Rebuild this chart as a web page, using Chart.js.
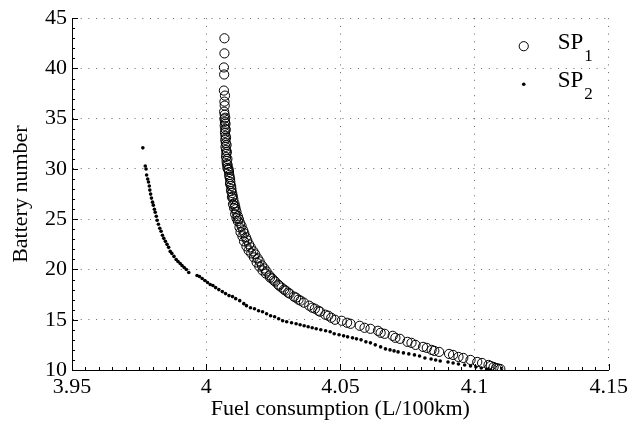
<!DOCTYPE html>
<html>
<head>
<meta charset="utf-8">
<script src="https://cdn.jsdelivr.net/npm/chart.js@4"></script>
<style>
  html, body { margin: 0; padding: 0; background: #fff; }
  #wrap { width: 632px; height: 430px; }
</style>
</head>
<body>
<div id="wrap"><canvas id="myChart" width="632" height="430"></canvas></div>
<script>
// ++++++++++++++++++++++++ DATA ++++++++++++++++++++++++

var xTicks = [3.95, 4, 4.05, 4.1, 4.15];
var yTicks = [10, 15, 20, 25, 30, 35, 40, 45];

var seriesNames = ['SP', 'SP'];
var seriesSubs = ['1', '2'];

// SP1 (open circles)
var sp1Fuel = [
    4.0068, 4.0068, 4.0066, 4.0067, 4.0066, 4.0070, 4.0068, 4.0069, 4.0067, 4.0069,
    4.0068, 4.0070, 4.0069, 4.0071, 4.0070, 4.0072, 4.0071, 4.0073, 4.0072, 4.0074,
    4.0075, 4.0074, 4.0076, 4.0077, 4.0079, 4.0083, 4.0085, 4.0086, 4.0089, 4.0090,
    4.0093, 4.0094, 4.0097, 4.0099, 4.0101, 4.0105, 4.0108, 4.0110, 4.0113, 4.0118,
    4.0122, 4.0127, 4.0132, 4.0138, 4.0142, 4.0148, 4.0153, 4.0160, 4.0166, 4.0176,
    4.0183, 4.0192, 4.0199, 4.0208, 4.0217, 4.0225, 4.0236, 4.0246, 4.0257, 4.0268,
    4.0281, 4.0296, 4.0311, 4.0327, 4.0344, 4.0364, 4.0384, 4.0405, 4.0424, 4.0444,
    4.0466, 4.0505, 4.0538, 4.0572, 4.0612, 4.0640, 4.0665, 4.0695, 4.0722, 4.0750,
    4.0780, 4.0808, 4.0840, 4.0868, 4.0920, 4.0958, 4.0985, 4.1028, 4.1052, 4.1071,
    4.1080, 4.1096,
    4.0071, 4.0072, 4.0073, 4.0074, 4.0076, 4.0077, 4.0079, 4.0080, 4.0083, 4.0087,
    4.0089, 4.0093, 4.0096, 4.0100, 4.0104, 4.0108, 4.0113, 4.0118, 4.0124, 4.0128,
    4.0135, 4.0141, 4.0150, 4.0158, 4.0168, 4.0178, 4.0188, 4.0198, 4.0210, 4.0222,
    4.0238, 4.0252, 4.0272, 4.0290, 4.0305, 4.0335, 4.0352, 4.0395, 4.0418, 4.0455,
    4.0480, 4.0525, 4.0590, 4.0650, 4.0705, 4.0765, 4.0822, 4.0850, 4.0905, 4.0940,
    4.1010, 4.1060, 4.1088
];
var sp1Battery = [
    43.0, 41.5, 40.1, 39.4, 37.8, 37.3, 36.7, 36.3, 35.7, 35.4,
    35.0, 34.7, 34.3, 34.0, 33.6, 33.3, 32.9, 32.6, 32.2, 31.9,
    31.5, 31.2, 30.8, 30.5, 30.1, 30.0, 29.7, 29.4, 29.0, 28.7,
    28.3, 28.0, 27.6, 27.3, 27.0, 26.6, 26.3, 26.0, 25.7, 25.3,
    25.0, 24.6, 24.3, 23.9, 23.6, 23.2, 22.9, 22.5, 22.2, 21.8,
    21.5, 21.1, 20.8, 20.4, 20.1, 19.8, 19.4, 19.1, 18.8, 18.5,
    18.2, 17.9, 17.6, 17.3, 17.0, 16.7, 16.4, 16.1, 15.8, 15.5,
    15.2, 14.9, 14.6, 14.4, 14.1, 13.9, 13.6, 13.4, 13.1, 12.8,
    12.5, 12.3, 12.0, 11.8, 11.5, 11.2, 11.0, 10.7, 10.5, 10.3,
    10.2, 10.1,
    35.1, 34.5, 33.9, 33.1, 32.4, 31.7, 31.0, 30.4, 29.9, 29.2,
    28.5, 27.8, 27.2, 26.5, 26.1, 25.5, 25.1, 24.8, 24.2, 23.7,
    23.3, 22.8, 22.3, 21.9, 21.6, 21.2, 20.7, 20.3, 19.9, 19.6,
    19.2, 18.9, 18.4, 18.0, 17.7, 17.2, 16.9, 16.2, 15.9, 15.4,
    15.0, 14.7, 14.2, 13.7, 13.2, 12.7, 12.2, 11.9, 11.6, 11.3,
    10.8, 10.4, 10.15
];

// SP2 (small dots)
var sp2Fuel = [
    3.9764, 3.9773, 3.9776, 3.9778, 3.9782, 3.9785, 3.9788, 3.9790, 3.9793, 3.9796,
    3.9800, 3.9803, 3.9807, 3.9810, 3.9814, 3.9817, 3.9822, 3.9827, 3.9832, 3.9837,
    3.9842, 3.9848, 3.9854, 3.9860, 3.9866, 3.9872, 3.9880, 3.9888, 3.9895, 3.9903,
    3.9910, 3.9918, 3.9926, 3.9935, 3.9966, 3.9975, 3.9985, 3.9995, 4.0005, 4.0015,
    4.0025, 4.0035, 4.0047, 4.0060, 4.0072, 4.0085, 4.0098, 4.0110, 4.0125, 4.0140,
    4.0150, 4.0165, 4.0180, 4.0195, 4.0210, 4.0225, 4.0240, 4.0255, 4.0270, 4.0285,
    4.0300, 4.0318, 4.0335, 4.0350, 4.0365, 4.0380, 4.0395, 4.0410, 4.0427, 4.0445,
    4.0462, 4.0477, 4.0495, 4.0512, 4.0527, 4.0545, 4.0560, 4.0577, 4.0595, 4.0612,
    4.0630, 4.0650, 4.0668, 4.0685, 4.0700, 4.0715, 4.0735, 4.0755, 4.0776, 4.0795,
    4.0815, 4.0838, 4.0855, 4.0872, 4.0901, 4.0920, 4.0940, 4.0963, 4.0985, 4.1005,
    4.1025, 4.1045, 4.1060
];
var sp2Battery = [
    32.1, 30.3, 30.0, 29.4, 29.0, 28.7, 28.3, 27.9, 27.5, 27.1,
    26.7, 26.4, 26.0, 25.7, 25.3, 24.9, 24.5, 24.1, 23.8, 23.4,
    23.1, 22.8, 22.5, 22.2, 21.8, 21.6, 21.3, 21.0, 20.8, 20.6,
    20.4, 20.2, 20.0, 19.7, 19.4, 19.3, 19.1, 18.9, 18.7, 18.5,
    18.4, 18.2, 18.0, 17.8, 17.6, 17.4, 17.3, 17.1, 16.9, 16.6,
    16.4, 16.2, 16.1, 15.9, 15.8, 15.6, 15.4, 15.3, 15.1, 14.9,
    14.8, 14.7, 14.6, 14.5, 14.4, 14.3, 14.2, 14.1, 14.0, 13.9,
    13.8, 13.6, 13.5, 13.4, 13.3, 13.2, 13.1, 13.0, 12.8, 12.7,
    12.5, 12.3, 12.1, 12.0, 11.9, 11.8, 11.7, 11.6, 11.5, 11.4,
    11.2, 11.1, 11.0, 10.9, 10.8, 10.7, 10.6, 10.5, 10.4, 10.3,
    10.2, 10.1, 10.0
];

function toPoints(xs, ys) {
    var pts = [];
    for (let i = 0; i < xs.length; i++) {
        pts.push({x: xs[i], y: ys[i]});
    }
    return pts;
}

var FONT = 'Liberation Serif, Times New Roman, serif';

// ++++++++++++++++++++++++ PLUGINS ++++++++++++++++++++++++

// MATLAB-style inward ticks with minor marks
const inwardTicks = {
    id: 'inwardTicks',
    afterDraw(chart) {
        const ctx = chart.ctx, a = chart.chartArea;
        const xs = chart.scales.x, ys = chart.scales.y;
        ctx.save();
        ctx.strokeStyle = '#000';
        ctx.lineWidth = 1;
        ctx.beginPath();
        const xStep = 0.005;
        const nx = Math.round((xTicks[xTicks.length - 1] - xTicks[0]) / xStep);
        for (let i = 0; i <= nx; i++) {
            const px = Math.round(xs.getPixelForValue(xTicks[0] + i * xStep)) + 0.5;
            const len = (i % 10 === 0) ? 6 : 3;
            ctx.moveTo(px, a.bottom);
            ctx.lineTo(px, a.bottom - len);
        }
        const yStep = 1;
        const ny = Math.round((yTicks[yTicks.length - 1] - yTicks[0]) / yStep);
        for (let i = 0; i <= ny; i++) {
            const py = Math.round(ys.getPixelForValue(yTicks[0] + i * yStep)) + 0.5;
            const len = (i % 5 === 0) ? 6 : 3;
            ctx.moveTo(a.left, py);
            ctx.lineTo(a.left + len, py);
        }
        ctx.stroke();
        ctx.restore();
    }
};

// legend with subscripts
const subLegend = {
    id: 'subLegend',
    afterDraw(chart) {
        const ctx = chart.ctx, a = chart.chartArea;
        ctx.save();
        const rows = [a.top + 25, a.top + 63];
        for (let i = 0; i < 2; i++) {
            const ds = chart.data.datasets[i];
            const cy = rows[i];
            const mx = a.right - 85;
            ctx.beginPath();
            ctx.arc(mx, cy + 3, ds.pointRadius, 0, Math.PI * 2);
            if (i === 0) {
                ctx.strokeStyle = '#000';
                ctx.lineWidth = 1;
                ctx.stroke();
            } else {
                ctx.fillStyle = '#000';
                ctx.fill();
            }
            ctx.fillStyle = '#000';
            ctx.textBaseline = 'middle';
            ctx.textAlign = 'left';
            ctx.font = '23px ' + FONT;
            const tx = a.right - 51;
            ctx.fillText(seriesNames[i], tx, cy);
            const w = ctx.measureText(seriesNames[i]).width;
            ctx.font = '17px ' + FONT;
            ctx.fillText(seriesSubs[i], tx + w + 1, cy + 13);
        }
        ctx.restore();
    }
};

// ++++++++++++++++++++++++ CHART ++++++++++++++++++++++++

var canvas = document.getElementById('myChart').getContext('2d');
var myChart = new Chart(canvas, {
    type: 'scatter',
    data: {
        datasets: [
            {
                label: 'SP1',
                data: toPoints(sp1Fuel, sp1Battery),
                pointStyle: 'circle',
                pointRadius: 4.6,
                pointBorderWidth: 1,
                borderColor: '#000',
                backgroundColor: 'rgba(0,0,0,0)',
                pointBackgroundColor: 'rgba(0,0,0,0)',
                pointBorderColor: '#000',
            },
            {
                label: 'SP2',
                data: toPoints(sp2Fuel, sp2Battery),
                pointStyle: 'circle',
                pointRadius: 1.8,
                pointBorderWidth: 0,
                borderColor: '#000',
                backgroundColor: '#000',
                pointBackgroundColor: '#000',
            }
        ]
    },
    options: {
        responsive: false,
        animation: false,
        events: [],
        layout: {padding: {left: 0, right: 21, top: 14, bottom: 0}},
        plugins: {
            legend: {display: false},
            tooltip: {enabled: false}
        },
        scales: {
            x: {
                type: 'linear',
                min: xTicks[0],
                max: xTicks[xTicks.length - 1],
                afterFit: function(s) { s.height = 60; },
                afterBuildTicks: function(s) { s.ticks = xTicks.map(v => ({value: v})); },
                ticks: {
                    padding: 4,
                    color: '#000',
                    font: {family: FONT, size: 22},
                    maxRotation: 0,
                    callback: function(value) { return String(Number(value.toFixed(2))); }
                },
                grid: {
                    color: 'rgba(0,0,0,0.6)',
                    lineWidth: 1,
                    drawTicks: false
                },
                border: {display: true, color: '#000', width: 1, dash: [1, 6.7]},
                title: {
                    display: true,
                    text: 'Fuel consumption (L/100km)',
                    color: '#000',
                    font: {family: FONT, size: 22},
                    padding: {top: 0, bottom: 8}
                }
            },
            y: {
                type: 'linear',
                min: yTicks[0],
                max: yTicks[yTicks.length - 1],
                afterFit: function(s) { s.width = 72; },
                afterBuildTicks: function(s) { s.ticks = yTicks.map(v => ({value: v})); },
                ticks: {
                    padding: 5,
                    color: '#000',
                    font: {family: FONT, size: 22}
                },
                grid: {
                    color: 'rgba(0,0,0,0.6)',
                    lineWidth: 1,
                    drawTicks: false
                },
                border: {display: true, color: '#000', width: 1, dash: [1, 6.7]},
                title: {
                    display: true,
                    text: 'Battery number',
                    color: '#000',
                    font: {family: FONT, size: 22},
                    padding: {top: 8, bottom: 0}
                }
            }
        }
    },
    plugins: [inwardTicks, subLegend]
});
</script>
</body>
</html>
